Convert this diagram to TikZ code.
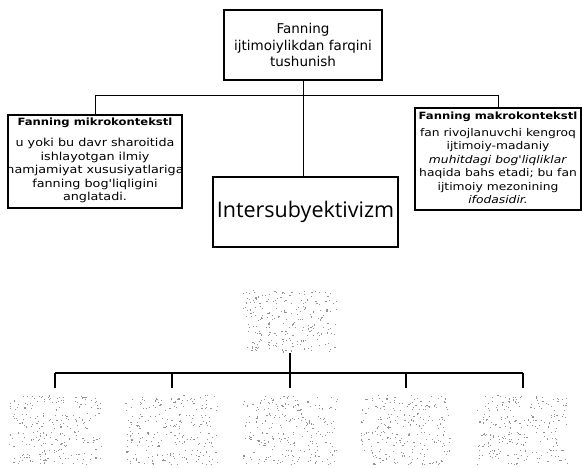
\documentclass[tikz,border=0pt]{standalone}
\usepackage{fontspec}
\setmainfont{DejaVu Sans}
\newfontfamily\osans{Open Sans}
\newfontfamily\widefont[FakeStretch=1.16]{DejaVu Sans}
\newcommand\speckles[5]{%
  \foreach \rr in {1,...,#5}{%
    \foreach \kk in {1,...,60}{%
      \pgfmathsetmacro\spx{#1+rnd*#3}%
      \pgfmathsetmacro\spy{#2+(\rr-1)*#4+rnd*(#4*0.85)}%
      \fill[spk] (\spx,\spy) rectangle ++(1.1,1.1);
    }%
  }%
}
\begin{document}
\begin{tikzpicture}[x=1pt,y=-1pt,
  box/.style={draw=black,line width=2pt,inner sep=2pt},
  conn/.style={draw=black,line width=0.8pt},
  bus/.style={draw=black,line width=1.8pt},
  tick/.style={draw=black,line width=1.3pt},
  blk/.style={draw=none,minimum width=94pt,inner sep=0pt},
  spk/.style={fill=black!42},
  hdr/.style={font=\widefont\bfseries\fontsize{10}{11}\selectfont,inner sep=0pt},
  body/.style={font=\widefont\fontsize{11}{13.5}\selectfont,align=center,inner sep=0pt}]
\useasboundingbox (0,0) rectangle (583,467);
\pgfmathsetseed{7}
% top box
\node[box,minimum height=70pt,text width=154pt,align=center,
  font=\fontsize{13.5}{16.5}\selectfont] (t) at (303,45)
  {Fanning\\ijtimoiylikdan farqini\\tushunish};
% left box
\node[box,minimum width=174pt,minimum height=93pt] (L) at (95,161.5) {};
\node[hdr] (Lh) at (95,123) {Fanning mikrokontekstl};
\node[body] (Lb) at (95,170.5) {u yoki bu davr sharoitida\\ishlayotgan ilmiy\\hamjamiyat xususiyatlariga\\fanning bog'liqligini\\anglatadi.};
% right box
\node[box,minimum width=166pt,minimum height=102pt] (R) at (498,159) {};
\node[hdr] (Rh) at (498,116.5) {Fanning makrokontekstl};
\node[body,font=\widefont\fontsize{10.6}{13.4}\selectfont] (Rb) at (498,166) {fan rivojlanuvchi kengroq\\ijtimoiy-madaniy\\\textit{muhitdagi bog'liqliklar}\\haqida bahs etadi; bu fan\\ijtimoiy mezonining\\\textit{ifodasidir.}};
% centre box
\node[box,minimum width=185pt,minimum height=70pt,
  font=\osans\fontsize{21.5}{24}\selectfont] (I) at (305.5,212) {Intersubyektivizm};
% top connectors
\coordinate (b1) at (303,95);
\draw[conn] (t.south) -- (t.south |- I.north);
\draw[conn] (L.north |- b1) -- (R.north |- b1);
\draw[conn] (L.north |- b1) -- (L.north);
\draw[conn] (R.north |- b1) -- (R.north);
% lower tree (illegible blocks)
\node[blk,minimum height=63pt] (n0) at (290,321.5) {};
\node[blk,minimum height=78pt] (m1) at (55,427) {};
\node[blk,minimum height=78pt] (m2) at (172,427) {};
\node[blk,minimum height=78pt] (m3) at (290,427) {};
\node[blk,minimum height=78pt] (m4) at (406,427) {};
\node[blk,minimum height=78pt] (m5) at (523,427) {};
\speckles{243}{290}{94}{16}{4}
\speckles{9}{395}{92}{18}{4}
\speckles{125}{395}{92}{18}{4}
\speckles{243}{395}{94}{18}{4}
\speckles{360}{395}{90}{18}{4}
\speckles{477}{395}{90}{18}{4}
\coordinate (b2) at (290,373);
\draw[tick] (n0.south) -- (n0.south |- b2);
\draw[bus] (m1.north |- b2) -- (m5.north |- b2);
\foreach \m in {m1,m2,m3,m4,m5}{\draw[tick] (\m.north |- b2) -- (\m.north);}
\end{tikzpicture}
\end{document}
